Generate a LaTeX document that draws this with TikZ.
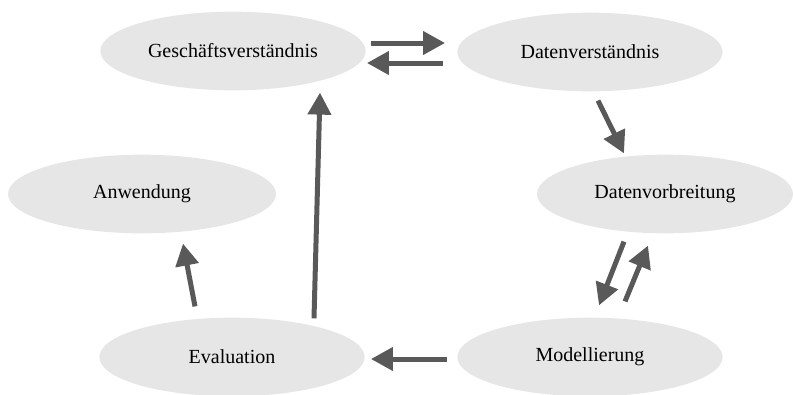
\documentclass[tikz,border=0pt]{standalone}
\usepackage{fontspec}
\setmainfont{Liberation Serif}
\usepackage{tikz}
\usetikzlibrary{arrows.meta,shapes.geometric}
\definecolor{phasegray}{HTML}{E6E6E6}
\definecolor{flowgray}{HTML}{595959}

\begin{document}
\begin{tikzpicture}[x=0.75pt,y=-0.75pt,
  phase/.style={ellipse,fill=phasegray,inner sep=0pt,minimum width=199pt,minimum height=59pt,font=\fontsize{15}{18}\selectfont},
  flow/.style={flowgray,line width=3.75pt,-{Triangle[length=16.5pt,width=17pt]}}]
  \useasboundingbox (0,0) rectangle (793,394);
  \node[phase] (gesch) at (233,51) {Geschäftsverständnis};
  \node[phase] (daten) at (590,52) {Datenverständnis};
  \node[phase,minimum width=192pt] (vorb) at (665,194) {Datenvorbreitung};
  \node[phase,minimum width=201pt] (anw) at (142,194) {Anwendung};
  \node[phase] (eval) at (232,357) {Evaluation};
  \node[phase] (modell) at (590,357) {Modellierung};
  % Pfeile zwischen den Phasen
  \draw[flow] ([shift={(5,-8)}]gesch.east) -- ([shift={(-12,-9)}]daten.west);
  \draw[flow] ([shift={(-14,11)}]daten.west) -- ([shift={(1,12)}]gesch.east);
  \draw[flow] ([shift={(8,9)}]daten.south) -- ([shift={(-41,-1)}]vorb.north);
  \draw[flow] ([shift={(-41,8)}]vorb.south) -- ([shift={(9,-12)}]modell.north);
  \draw[flow] ([shift={(35,-16)}]modell.north) -- ([shift={(-17,12)}]vorb.south);
  \draw[flow] ([shift={(-10,2)}]modell.west) -- ([shift={(6,2)}]eval.east);
  \draw[flow] ([shift={(82,1)}]eval.north) -- ([shift={(87,2)}]gesch.south);
  \draw[flow] ([shift={(-37,-11)}]eval.north) -- ([shift={(41,10)}]anw.south);
\end{tikzpicture}
\end{document}
